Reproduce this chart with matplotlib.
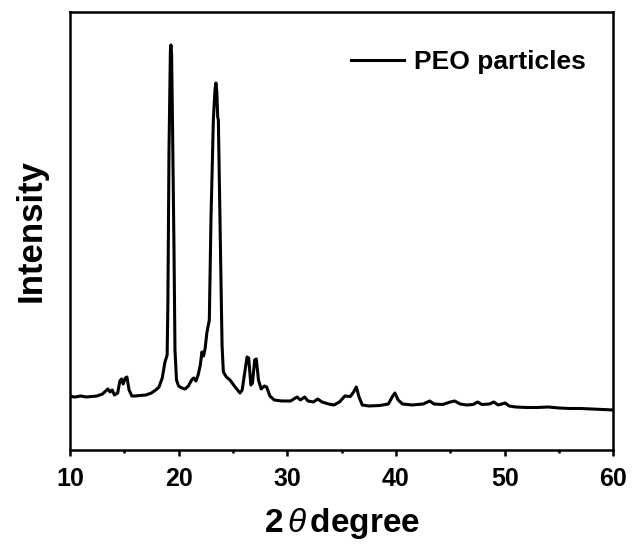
import matplotlib.pyplot as plt
from matplotlib.ticker import MultipleLocator

plt.rcParams["font.family"] = ["Liberation Sans", "DejaVu Sans"]
plt.rcParams["mathtext.fontset"] = "custom"
plt.rcParams["mathtext.it"] = "Liberation Sans:italic"
plt.rcParams["mathtext.rm"] = "Liberation Sans"

# XRD pattern of the PEO particles (2theta in degrees, intensity in a.u.)
two_theta = [
    10.0, 10.5, 11.0, 11.5, 12.0, 12.5, 13.0, 13.3, 13.5, 13.7, 13.9, 14.1,
    14.4, 14.6, 14.75, 14.9, 15.1, 15.25, 15.45, 15.7, 16.0, 16.5, 17.0,
    17.5, 17.9, 18.2, 18.5, 18.75, 18.95, 19.02, 19.12, 19.25, 19.3, 19.36,
    19.44, 19.58, 19.67, 19.81, 20.0, 20.3, 20.6, 20.9, 21.2, 21.4, 21.6,
    21.8, 22.0, 22.15, 22.3, 22.45, 22.6, 22.83, 22.98, 23.2, 23.35, 23.44,
    23.52, 23.6, 23.66, 23.81, 23.97, 24.0, 24.12, 24.4, 24.73, 25.2, 25.65,
    25.85, 26.05, 26.3, 26.45, 26.65, 26.8, 27.0, 27.15, 27.35, 27.6, 27.9,
    28.1, 28.4, 28.8, 29.5, 30.3, 30.9, 31.2, 31.6, 31.9, 32.4, 32.8, 33.2,
    33.8, 34.3, 34.8, 35.3, 35.8, 36.1, 36.35, 36.6, 36.9, 37.5, 38.5, 39.3,
    39.7, 39.9, 40.2, 40.6, 41.5, 42.5, 43.1, 43.5, 44.3, 45.0, 45.4, 45.9,
    46.5, 47.1, 47.5, 47.9, 48.6, 49.0, 49.4, 50.05, 50.4, 51.0, 52.0, 53.0,
    54.0, 55.0, 56.0, 57.0, 58.0, 59.0, 60.0,
]
intensity = [
    53.5, 53, 54, 53, 53.5, 54, 56, 59, 61, 58, 60, 55,
    57, 69, 71, 66, 72, 73, 60, 54, 54, 54.5, 55,
    57, 60, 63, 72, 88, 95, 150, 300, 400, 405, 395,
    330, 200, 100, 70, 64, 62, 61, 64, 70, 72, 69,
    75, 85, 98, 94, 102, 117, 130, 230, 330, 360, 367,
    358, 333, 330, 230, 130, 105, 78, 73, 70, 63, 57,
    60, 75, 93, 92, 65, 67, 90, 91, 70, 61, 64,
    63, 54, 50, 49, 49, 53, 50, 53, 49, 48, 51, 48,
    46, 45, 48, 54, 53.5, 58, 63, 53, 45, 44, 44.5, 46,
    54, 57, 50, 46, 45, 46, 49, 46, 45.5, 48, 49, 46,
    45, 45.5, 48, 45.5, 46, 48, 45, 47, 44, 43, 42.5, 42.5,
    43, 42, 41.5, 41.5, 41, 40.5, 40,
]

x_ticks = [10, 20, 30, 40, 50, 60]

fig = plt.figure(figsize=(6.35, 5.44), dpi=100)
ax = fig.add_axes([0.110, 0.1728, 0.856, 0.8052])

ax.plot(two_theta, intensity, color="black", linewidth=2.2, label="PEO particles")

ax.set_xlim(10, 60)
ax.set_ylim(0, 438)
ax.set_xticks(x_ticks)
ax.xaxis.set_minor_locator(MultipleLocator(5))
ax.set_yticks([])

for side in ["left", "right", "top", "bottom"]:
    ax.spines[side].set_linewidth(1.8)

ax.tick_params(axis="x", which="major", direction="out", length=4, width=1.8,
               pad=8, labelsize=18)
ax.tick_params(axis="x", which="minor", direction="out", length=2.5, width=1.8)
for lbl in ax.get_xticklabels():
    lbl.set_fontweight("bold")

ax.set_xlabel(r"2$\,\theta\,$degree", fontsize=24, fontweight="bold", labelpad=11)
ax.set_ylabel("Intensity", fontsize=25, fontweight="bold", labelpad=16)

leg = ax.legend(loc="upper right", frameon=False, handlelength=2.0,
                handletextpad=0.4, borderaxespad=0.3,
                bbox_to_anchor=(0.984, 0.955),
                prop={"size": 19, "weight": "bold"})

fig.savefig("out.png", dpi=100)
